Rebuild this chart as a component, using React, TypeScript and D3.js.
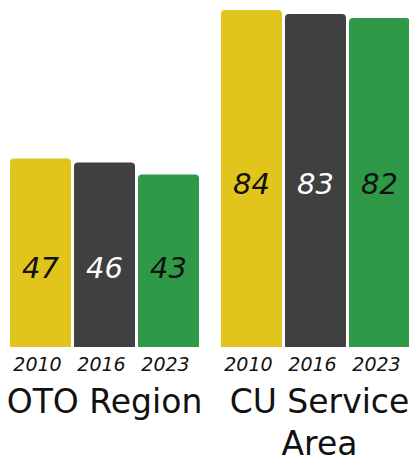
import { useEffect, useRef } from 'react';
import * as d3 from 'd3';

const regions = ['OTO Region', 'CU Service Area'];
const years = ['2010', '2016', '2023'];
const values: Record<string, number[]> = {
  'OTO Region': [47, 46, 43],
  'CU Service Area': [84, 83, 82],
};
const colors = ['#e2c51c', '#404040', '#2e9a47'];
const labelColors = ['#111', '#fff', '#111'];

const W = 409;
const H = 457;
const FONT = "'DejaVu Sans', sans-serif";

// path for bar with rounded top corners only
function topRounded(x: number, y: number, w: number, h: number, r: number) {
  const p = d3.path();
  p.moveTo(x, y + h);
  p.lineTo(x, y + r);
  p.arcTo(x, y, x + r, y, r);
  p.lineTo(x + w - r, y);
  p.arcTo(x + w, y, x + w, y + r, r);
  p.lineTo(x + w, y + h);
  p.closePath();
  return p.toString();
}

export default function App() {
  const svgRef = useRef<SVGSVGElement>(null);

  useEffect(() => {
    document.body.style.margin = '0';
    if (!svgRef.current) return;
    const svg = d3.select(svgRef.current);
    svg.selectAll('*').remove();

    const baseY = 347;
    const x0 = d3.scaleBand<string>().domain(regions).range([10, 410]).paddingInner(0.104);
    const x1 = d3.scaleBand<string>().domain(years).range([0, x0.bandwidth()]).paddingInner(0.047);
    const y = d3.scaleLinear().domain([0, 84]).range([baseY, 10]);

    const groups = svg.selectAll('g.region')
      .data(regions)
      .join('g')
      .attr('class', 'region')
      .attr('transform', (d) => `translate(${x0(d)},0)`);

    groups.each(function (region) {
      const g = d3.select(this);
      const vals = values[region];
      const maxV = d3.max(vals)!;

      g.selectAll('path.bar')
        .data(vals)
        .join('path')
        .attr('class', 'bar')
        .attr('fill', (_, i) => colors[i])
        .attr('d', (v, i) => topRounded(x1(years[i])!, y(v), x1.bandwidth(), baseY - y(v), 4));

      // value labels share one line per group, a bit below the middle of the tallest bar
      g.selectAll('text.val')
        .data(vals)
        .join('text')
        .attr('class', 'val')
        .attr('x', (_, i) => x1(years[i])! + x1.bandwidth() / 2)
        .attr('y', y(maxV * 0.571) + 39)
        .attr('text-anchor', 'middle')
        .attr('font-family', FONT)
        .attr('font-style', 'italic')
        .attr('font-size', 29)
        .attr('fill', (_, i) => labelColors[i])
        .text((v) => v);

      g.selectAll('text.year')
        .data(years)
        .join('text')
        .attr('class', 'year')
        .attr('x', (d) => x1(d)! + x1.bandwidth() / 2 - 3)
        .attr('y', 371)
        .attr('text-anchor', 'middle')
        .attr('font-family', FONT)
        .attr('font-style', 'italic')
        .attr('font-size', 19)
        .attr('fill', '#111')
        .text((d) => d);

      // group label, wrapped to two lines when too wide
      const words = region.split(' ');
      const lines = words.length > 2 ? [words.slice(0, 2).join(' '), words.slice(2).join(' ')] : [region];
      const label = g.append('text')
        .attr('text-anchor', 'middle')
        .attr('font-family', FONT)
        .attr('font-size', 33)
        .attr('fill', '#111');
      lines.forEach((ln, i) => {
        label.append('tspan')
          .attr('x', x0.bandwidth() / 2 + (lines.length > 1 ? 4 : 0))
          .attr('y', 413 + i * 42)
          .text(ln);
      });
    });
  }, []);

  return <svg ref={svgRef} width={W} height={H} style={{ display: 'block', background: '#fff' }} />;
}
